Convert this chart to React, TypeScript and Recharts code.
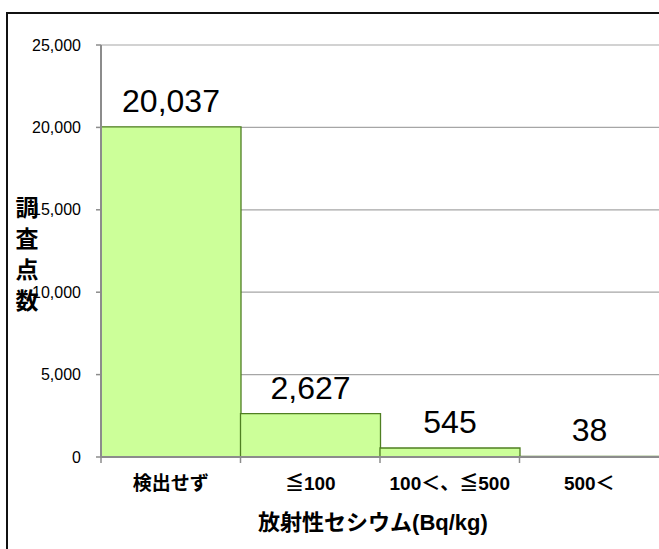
import React from 'react';
import { BarChart, Bar, XAxis, YAxis, CartesianGrid, LabelList, Label } from 'recharts';

const CATEGORIES = ['検出せず', '≦100', '100＜、≦500', '500＜'];
const COUNTS = [20037, 2627, 545, 38];
const Y_TICKS = [0, 5000, 10000, 15000, 20000, 25000];
const Y_TITLE = ['調', '査', '点', '数'];
const X_TITLE = '放射性セシウム(Bq/kg)';

const CHART_W = 659;
const CHART_H = 549;
const Y_AXIS_W = 101;
const X_AXIS_H = 92;
const BAND = (CHART_W - Y_AXIS_W) / CATEGORIES.length;
const FONT = '"Liberation Sans", Arial, "Noto Sans CJK JP", sans-serif';

const data = CATEGORIES.map((name, i) => ({ name, count: COUNTS[i] }));

const fmt = (v: number) => v.toLocaleString('en-US');

// label centred in its band, with the tick mark at the band's left edge
function CategoryTick(props: any) {
  const { x, y, payload } = props;
  const edge = x - BAND / 2;
  return (
    <g>
      <line x1={edge} x2={edge} y1={y - 6} y2={y} stroke="#8c8c8c" strokeWidth={1.5} />
      <text x={x} y={y + 27} textAnchor="middle" fontFamily={FONT} fontSize={19} fontWeight="bold" fill="#000">
        {payload.value}
      </text>
    </g>
  );
}

function XTitle(props: any) {
  const vb = props.viewBox || { x: Y_AXIS_W, y: CHART_H - X_AXIS_H, width: CHART_W - Y_AXIS_W };
  return (
    <text x={vb.x + vb.width / 2 - 7} y={vb.y + 73} textAnchor="middle" fontFamily={FONT} fontSize={22} fontWeight="bold" fill="#000">
      {X_TITLE}
    </text>
  );
}

function YTitle() {
  return (
    <text x={27} y={216} textAnchor="middle" fontFamily={FONT} fontSize={23} fontWeight="bold" fill="#000">
      {Y_TITLE.map((ch, i) => (
        <tspan key={ch} x={27} dy={i === 0 ? 0 : 31}>{ch}</tspan>
      ))}
    </text>
  );
}

export default function App() {
  return (
    <div style={{ position: 'absolute', left: 0, top: 0, width: CHART_W, height: CHART_H, background: '#fff', overflow: 'hidden' }}>
      <div style={{ position: 'absolute', left: 6, top: 12, right: -10, bottom: -10, borderLeft: '2px solid #111', borderTop: '2px solid #111' }} />
      <div style={{ position: 'absolute', left: 0, top: 0 }}>
        <BarChart
          width={CHART_W}
          height={CHART_H}
          data={data}
          margin={{ top: 45, right: 0, left: 0, bottom: 0 }}
          barCategoryGap={0}
        >
          <CartesianGrid horizontal vertical={false} stroke="#a6a6a6" strokeWidth={1.2} />
          <YAxis
            width={Y_AXIS_W}
            domain={[0, 25000]}
            ticks={Y_TICKS}
            tickFormatter={fmt}
            interval={0}
            tickSize={5}
            tickMargin={15}
            axisLine={{ stroke: '#8c8c8c', strokeWidth: 2 }}
            tickLine={{ stroke: '#8c8c8c', strokeWidth: 1.5 }}
            tick={{ fill: '#000', fontSize: 16, fontFamily: FONT }}
          >
            <Label content={<YTitle />} />
          </YAxis>
          <XAxis
            dataKey="name"
            height={X_AXIS_H}
            interval={0}
            tickSize={6}
            tickMargin={0}
            tickLine={false}
            axisLine={{ stroke: '#8c8c8c', strokeWidth: 2 }}
            tick={<CategoryTick />}
          >
            <Label content={<XTitle />} />
          </XAxis>
          <Bar dataKey="count" fill="#ccff99" stroke="#4f7f22" strokeWidth={1.3} isAnimationActive={false}>
            <LabelList dataKey="count" position="top" offset={15} formatter={(v: any) => fmt(Number(v))} fill="#000" fontSize={32} fontFamily={FONT} />
          </Bar>
        </BarChart>
      </div>
    </div>
  );
}
